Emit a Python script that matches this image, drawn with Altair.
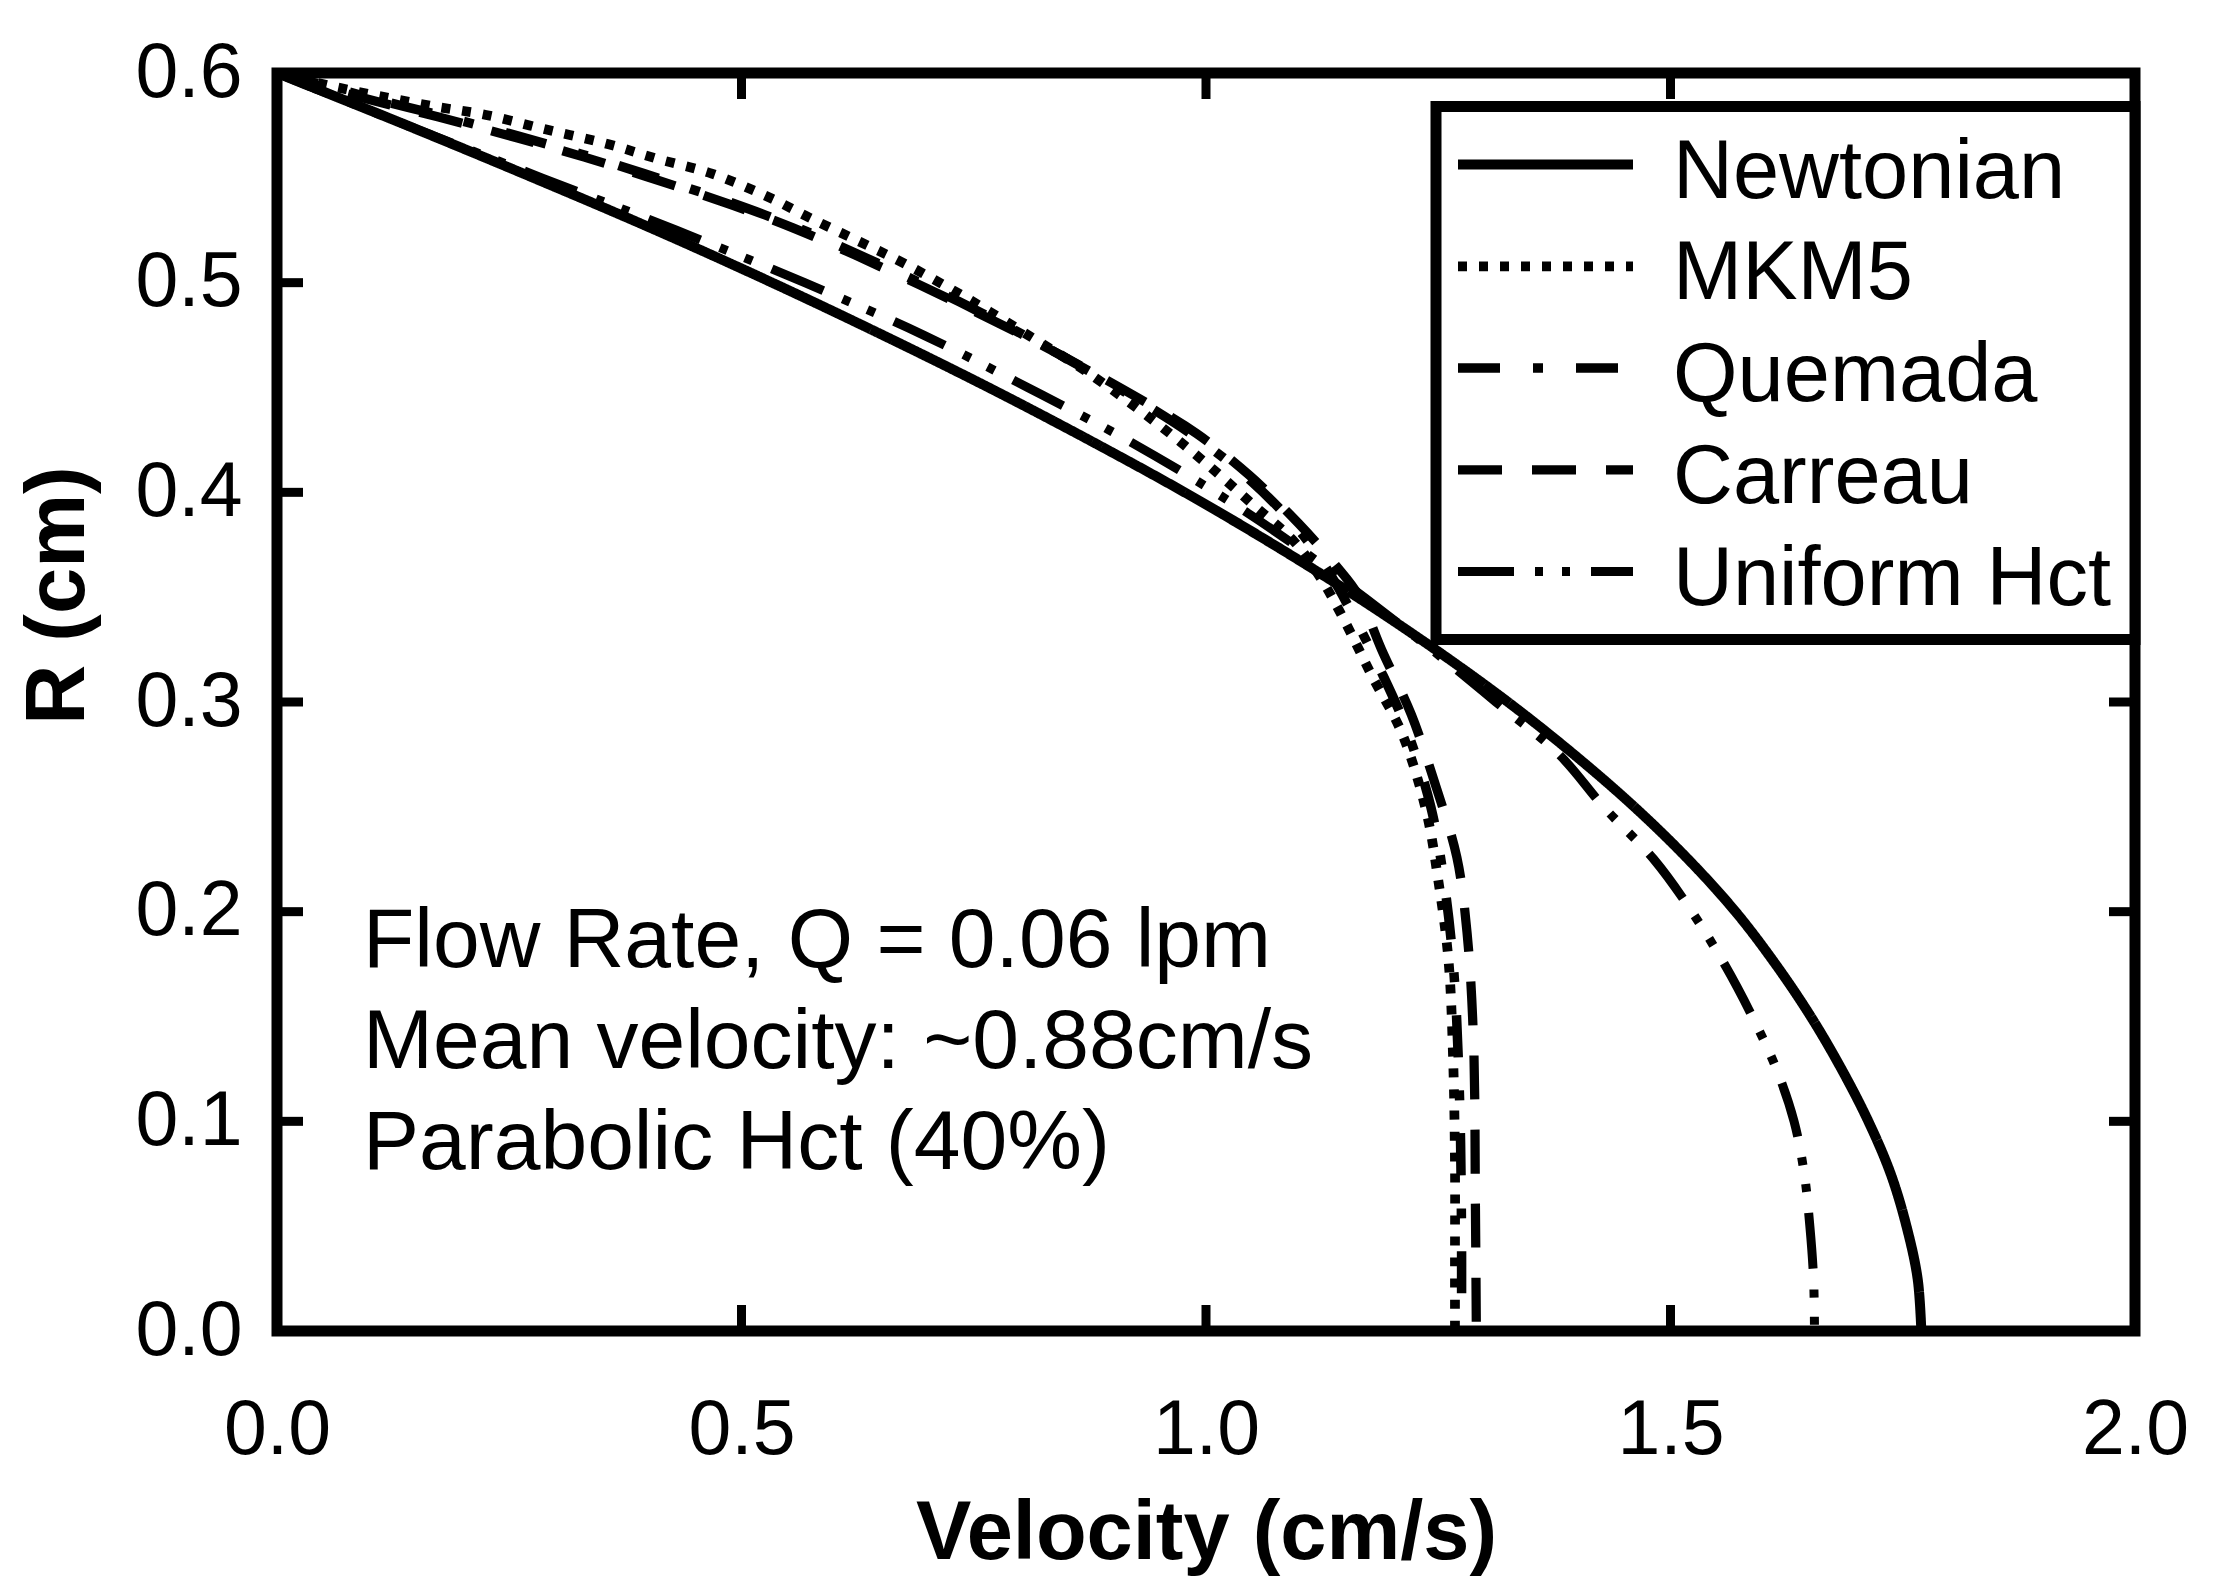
import pandas as pd
import altair as alt

series_names = ["Newtonian", "MKM5", "Quemada", "Carreau", "Uniform Hct"]

newtonian_r = [0.600, 0.575, 0.550, 0.525, 0.500, 0.475, 0.450, 0.425, 0.400, 0.375, 0.350, 0.325,
               0.300, 0.275, 0.250, 0.225, 0.200, 0.175, 0.150, 0.125, 0.100, 0.075, 0.050, 0.025, 0.000]
newtonian_v = [0.000, 0.140, 0.276, 0.408, 0.533, 0.652, 0.766, 0.874, 0.977, 1.073, 1.163, 1.247,
               1.325, 1.396, 1.461, 1.519, 1.570, 1.613, 1.651, 1.684, 1.713, 1.737, 1.754, 1.766, 1.770]

uniform_r = [0.600, 0.575, 0.550, 0.525, 0.500, 0.475, 0.450, 0.425, 0.400, 0.375, 0.350, 0.325,
             0.300, 0.275, 0.250, 0.225, 0.200, 0.175, 0.150, 0.125, 0.100, 0.075, 0.050, 0.025, 0.000]
uniform_v = [0.000, 0.140, 0.285, 0.430, 0.568, 0.696, 0.808, 0.915, 1.010, 1.095, 1.170, 1.243,
             1.312, 1.380, 1.428, 1.482, 1.523, 1.558, 1.588, 1.614, 1.633, 1.644, 1.650, 1.654, 1.655]

mkm5_v = [0.000, 0.056, 0.110, 0.170, 0.225, 0.290, 0.357, 0.410, 0.468, 0.533, 0.573, 0.625, 0.676,
          0.745, 0.812, 0.870, 0.944, 0.997, 1.051, 1.096, 1.125, 1.150, 1.178, 1.211, 1.237, 1.250,
          1.261, 1.266, 1.268, 1.268, 1.268]
mkm5_r = [0.600, 0.594, 0.589, 0.584, 0.580, 0.573, 0.566, 0.559, 0.552, 0.540, 0.531, 0.520, 0.509,
          0.492, 0.474, 0.458, 0.434, 0.415, 0.394, 0.376, 0.358, 0.338, 0.313, 0.285, 0.248, 0.215,
          0.177, 0.130, 0.080, 0.035, 0.000]

quemada_v = [0.000, 0.060, 0.120, 0.174, 0.259, 0.330, 0.395, 0.490, 0.556, 0.623, 0.734, 0.837, 0.927,
             0.990, 1.047, 1.100, 1.135, 1.160, 1.187, 1.215, 1.242, 1.257, 1.267, 1.273, 1.275, 1.275]
quemada_r = [0.600, 0.593, 0.586, 0.580, 0.570, 0.561, 0.552, 0.538, 0.527, 0.514, 0.491, 0.467, 0.444,
             0.426, 0.406, 0.382, 0.360, 0.340, 0.316, 0.288, 0.250, 0.212, 0.170, 0.110, 0.050, 0.000]

carreau_v = [0.000, 0.060, 0.120, 0.174, 0.259, 0.330, 0.395, 0.490, 0.556, 0.623, 0.734, 0.837, 0.927,
             0.990, 1.047, 1.100, 1.140, 1.164, 1.189, 1.221, 1.248, 1.270, 1.281, 1.288, 1.290, 1.291]
carreau_r = [0.600, 0.592, 0.585, 0.579, 0.569, 0.560, 0.551, 0.537, 0.526, 0.513, 0.490, 0.467, 0.445,
             0.428, 0.408, 0.385, 0.365, 0.351, 0.325, 0.294, 0.259, 0.226, 0.190, 0.138, 0.060, 0.000]

x_axis_values = [0.0, 0.5, 1.0, 1.5, 2.0]
y_axis_values = [0.0, 0.1, 0.2, 0.3, 0.4, 0.5, 0.6]
x_tick_values = [0.5, 1.0, 1.5]
y_tick_values = [0.1, 0.2, 0.3, 0.4, 0.5]
note_lines = ["Flow Rate, Q = 0.06 lpm", "Mean velocity: ~0.88cm/s", "Parabolic Hct (40%)"]

W, H = 1858, 1258
FONT = "Liberation Sans"
TICK = 26

curves = [
    ("Newtonian", newtonian_v, newtonian_r),
    ("MKM5", mkm5_v, mkm5_r),
    ("Quemada", quemada_v, quemada_r),
    ("Carreau", carreau_v, carreau_r),
    ("Uniform Hct", uniform_v, uniform_r),
]
frames = []
for name, vs, rs in curves:
    frames.append(pd.DataFrame({"series": name, "velocity": vs, "radius": rs, "idx": range(len(vs))}))
profiles = pd.concat(frames, ignore_index=True)
legend_rows = pd.DataFrame({"series": series_names})

dash_range = [[1, 0], [9, 12], [42, 33, 10, 33], [44, 30], [56, 21, 8, 19, 8, 21]]
width_range = [10, 9, 9, 9, 5]

x_scale = alt.Scale(domain=[0, 2], nice=False)
y_scale = alt.Scale(domain=[0, 0.6], nice=False)
dash_enc = alt.StrokeDash("series:N", scale=alt.Scale(domain=series_names, range=dash_range), legend=None)
width_enc = alt.StrokeWidth("series:N", scale=alt.Scale(domain=series_names, range=width_range), legend=None)
row_y = alt.Y("series:N", axis=None,
              scale=alt.Scale(type="point", domain=series_names, range=[91.5, 498.5], padding=0))

lines = (
    alt.Chart(profiles)
    .mark_line(interpolate="catmull-rom", color="black", strokeCap="butt")
    .encode(
        x=alt.X(
            "velocity:Q",
            scale=x_scale,
            axis=alt.Axis(values=x_axis_values, format=".1f", title="Velocity (cm/s)",
                          labelPadding=61, titleY=227, titleBaseline="alphabetic"),
        ),
        y=alt.Y(
            "radius:Q",
            scale=y_scale,
            axis=alt.Axis(values=y_axis_values, format=".1f", title="R (cm)", labelPadding=35,
                          titleAngle=270, titleX=-194, titleY=522, titleBaseline="alphabetic",
                          titleAlign="center"),
        ),
        strokeDash=dash_enc,
        strokeWidth=width_enc,
        order=alt.Order("idx:Q"),
    )
)

one = pd.DataFrame({"k": [0]})
legend_box = alt.Chart(one).mark_rect(fill="white", stroke="black", strokeWidth=11).encode(
    x=alt.value(1159), x2=alt.value(W), y=alt.value(33.5), y2=alt.value(566.5)
)
legend_lines = alt.Chart(legend_rows).mark_rule(color="black", strokeCap="butt").encode(
    x=alt.value(1181), x2=alt.value(1356), y=row_y, strokeDash=dash_enc, strokeWidth=width_enc
)
legend_text = alt.Chart(legend_rows).mark_text(
    align="left", baseline="middle", font=FONT, fontSize=83, color="black", dy=8
).encode(x=alt.value(1396), y=row_y, text="series:N")

xt = pd.DataFrame({"velocity": x_tick_values})
yt = pd.DataFrame({"radius": y_tick_values})
tick_mark = dict(color="black", strokeWidth=9)
bottom_ticks = alt.Chart(xt).mark_rule(**tick_mark).encode(
    x=alt.X("velocity:Q", scale=x_scale), y=alt.value(H), y2=alt.value(H - TICK))
top_ticks = alt.Chart(xt).mark_rule(**tick_mark).encode(
    x=alt.X("velocity:Q", scale=x_scale), y=alt.value(0), y2=alt.value(TICK))
left_ticks = alt.Chart(yt).mark_rule(**tick_mark).encode(
    y=alt.Y("radius:Q", scale=y_scale, axis=None), x=alt.value(0), x2=alt.value(TICK))
right_ticks = alt.Chart(yt).mark_rule(**tick_mark).encode(
    y=alt.Y("radius:Q", scale=y_scale, axis=None), x=alt.value(W), x2=alt.value(W - TICK))

note = alt.Chart(one).mark_text(
    align="left", baseline="alphabetic", font=FONT, fontSize=84, lineHeight=101, color="black"
).encode(x=alt.value(86), y=alt.value(894), text=alt.value(note_lines))

chart = (
    alt.layer(lines, bottom_ticks, top_ticks, left_ticks, right_ticks,
              legend_box, legend_lines, legend_text, note)
    .resolve_scale(y="independent")
    .properties(
        width=W,
        height=H,
        autosize=alt.AutoSizeParams(type="none"),
        padding={"left": 269, "top": 65, "right": 60, "bottom": 256},
    )
    .configure_view(stroke="black", strokeWidth=11)
    .configure_axis(
        domain=False, grid=False, ticks=False, tickSize=0,
        labelFont=FONT, labelFontSize=77, labelColor="black",
        labelFlush=False, labelOverlap=False,
        titleFont=FONT, titleFontSize=83, titleFontWeight="bold", titleColor="black",
    )
)

chart.save("out.html", embed_options={"renderer": "svg", "actions": False})
